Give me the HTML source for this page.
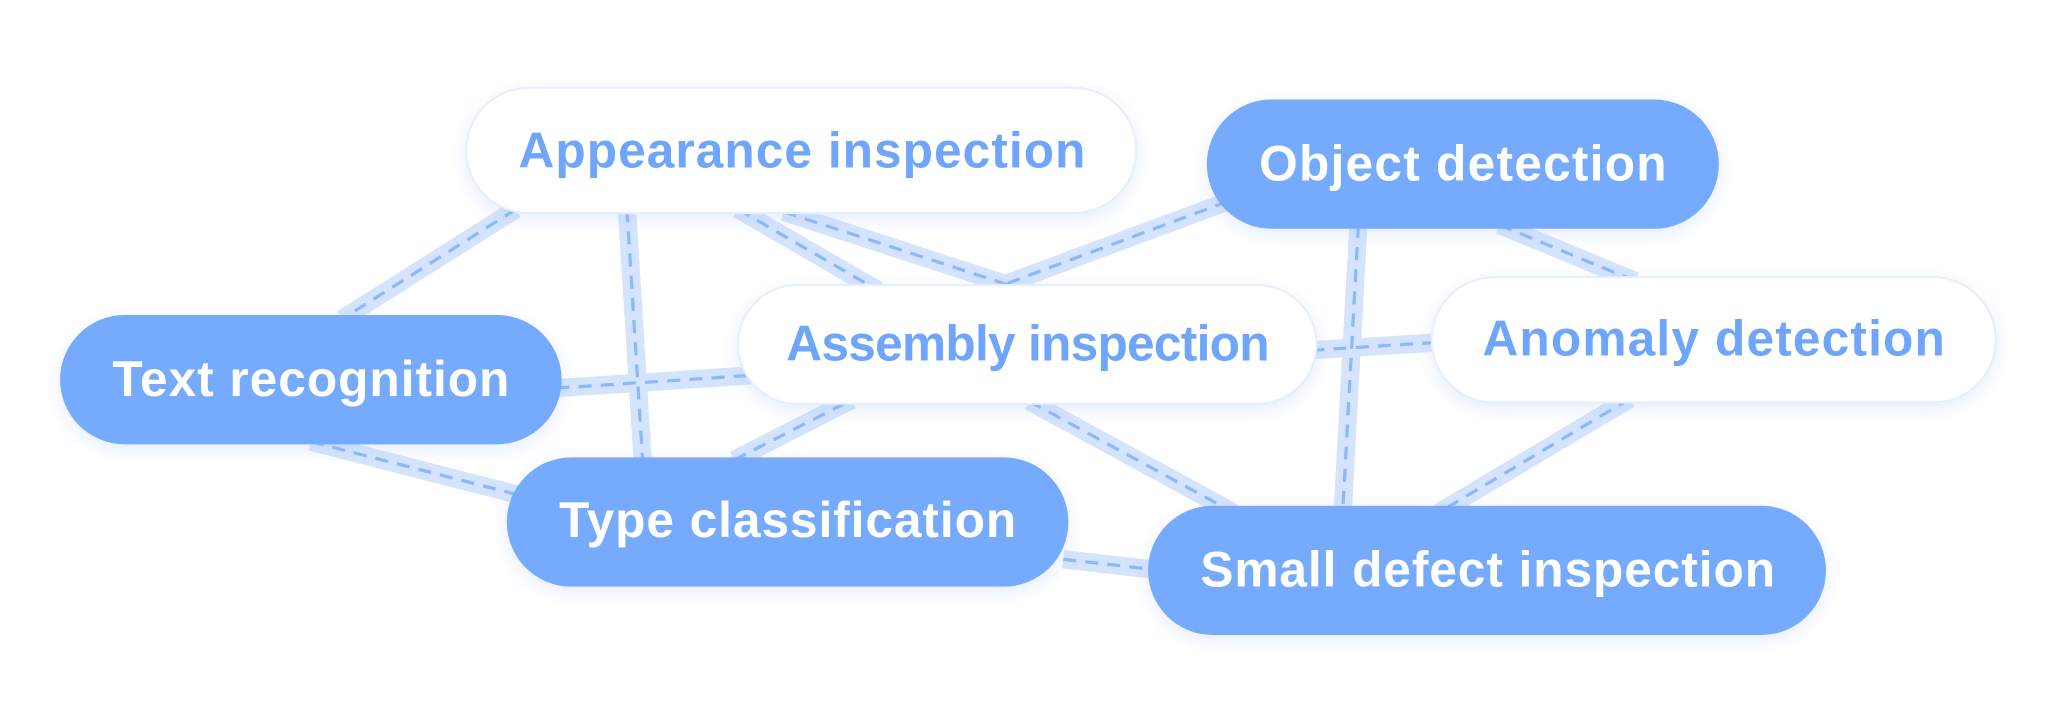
<!DOCTYPE html>
<html><head><meta charset="utf-8"><style>
html,body{margin:0;padding:0;background:#fff;}
svg{display:block;}
text{font-family:"Liberation Sans",sans-serif;font-weight:bold;font-size:38px;text-anchor:middle;}
</style></head><body>
<svg width="2048" height="711" viewBox="0 0 1568 544" xmlns="http://www.w3.org/2000/svg">
<defs>
<filter id="sh" x="-20%" y="-40%" width="140%" height="180%">
<feDropShadow dx="0" dy="4" stdDeviation="7" flood-color="#9cc0fa" flood-opacity="0.28"/>
</filter>
</defs>
<g stroke-linecap="butt" fill="none">
<g stroke="#d4e4fd" stroke-width="14">
<line x1="395" y1="160" x2="262" y2="244"/>
<line x1="480" y1="160" x2="492" y2="352"/>
<line x1="565" y1="160" x2="672" y2="222"/>
<line x1="600" y1="162" x2="772" y2="218"/>
<line x1="940" y1="154" x2="768" y2="218"/>
<line x1="1040" y1="172" x2="1028" y2="392"/>
<line x1="1148" y1="172" x2="1252" y2="215"/>
<line x1="426" y1="297" x2="578" y2="287"/>
<line x1="1004" y1="268" x2="1100" y2="262"/>
<line x1="238" y1="338" x2="402" y2="380"/>
<line x1="562" y1="352" x2="652" y2="306"/>
<line x1="788" y1="307" x2="944" y2="392"/>
<line x1="1248" y1="305" x2="1102" y2="392"/>
<line x1="814" y1="428" x2="884" y2="436"/>
</g>
<g stroke="#8db8fb" stroke-width="2.5" stroke-dasharray="10 7">
<line x1="395" y1="160" x2="262" y2="244"/>
<line x1="480" y1="160" x2="492" y2="352"/>
<line x1="565" y1="160" x2="672" y2="222"/>
<line x1="600" y1="162" x2="772" y2="218"/>
<line x1="940" y1="154" x2="768" y2="218"/>
<line x1="1040" y1="172" x2="1028" y2="392"/>
<line x1="1148" y1="172" x2="1252" y2="215"/>
<line x1="426" y1="297" x2="578" y2="287"/>
<line x1="1004" y1="268" x2="1100" y2="262"/>
<line x1="238" y1="338" x2="402" y2="380"/>
<line x1="562" y1="352" x2="652" y2="306"/>
<line x1="788" y1="307" x2="944" y2="392"/>
<line x1="1248" y1="305" x2="1102" y2="392"/>
<line x1="814" y1="428" x2="884" y2="436"/>
</g>
</g>
<g filter="url(#sh)">
<rect x="357" y="67" width="513" height="96" rx="48" fill="#fff" stroke="#e6eefc" stroke-width="1.5"/>
<rect x="924" y="76" width="392" height="99" rx="49.5" fill="#74aafd"/>
<rect x="46" y="241" width="384" height="99" rx="49.5" fill="#74aafd"/>
<rect x="565" y="218" width="443" height="91" rx="45.5" fill="#fff" stroke="#e6eefc" stroke-width="1.5"/>
<rect x="1096" y="212" width="432" height="96" rx="48" fill="#fff" stroke="#e6eefc" stroke-width="1.5"/>
<rect x="388" y="350" width="430" height="99" rx="49.5" fill="#74aafd"/>
<rect x="879" y="387" width="519" height="99" rx="49.5" fill="#74aafd"/>
</g>
<text x="614" y="128" fill="#6fa5fa" textLength="434">Appearance inspection</text>
<text x="1120" y="138" fill="#fff" textLength="312">Object detection</text>
<text x="238" y="303" fill="#fff" textLength="304">Text recognition</text>
<text x="787" y="276" fill="#6fa5fa" textLength="370">Assembly inspection</text>
<text x="1312" y="272" fill="#6fa5fa" textLength="354">Anomaly detection</text>
<text x="603" y="411" fill="#fff" textLength="350">Type classification</text>
<text x="1139" y="449" fill="#fff" textLength="440">Small defect inspection</text>
</svg>
</body></html>
